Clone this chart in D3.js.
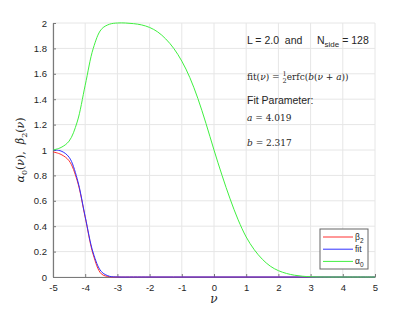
<!DOCTYPE html>
<html>
<head>
<meta charset="utf-8">
<script src="https://cdn.jsdelivr.net/npm/d3@7"></script>
<style>
  body { margin: 0; background: #fff; }
  text { font-family: "Liberation Sans", Arial, sans-serif; fill: #262626; }
  .serif { font-family: "DejaVu Serif", "Liberation Serif", serif; }
</style>
</head>
<body>
<div class="chart"></div>
<script>
// data
var nuB = [-5, -4.75, -4.5, -4.25, -4, -3.75, -3.5, -3.25, -3, -2.5, -2, -1, 0, 1, 2, 3, 4, 5];
var beta2 = [0.985, 0.965, 0.915, 0.76, 0.47, 0.175, 0.025, 0.002, 0, 0, 0, 0, 0, 0, 0, 0, 0, 0];
var fit = [1.0, 0.992, 0.943, 0.775, 0.475, 0.189, 0.043, 0.006, 0.0004, 0, 0, 0, 0, 0, 0, 0, 0, 0];

var nuA = [-5, -4.75, -4.5, -4.25, -4, -3.75, -3.5, -3.25, -3, -2.75, -2.5, -2.25, -2, -1.75, -1.5, -1.25,
           -1, -0.75, -0.5, -0.25, 0, 0.25, 0.5, 0.75, 1, 1.25, 1.5, 1.75, 2, 2.25, 2.5, 2.75, 3, 3.5, 4, 5];
var alpha0 = [1.0, 1.02, 1.07, 1.22, 1.51, 1.80, 1.95, 1.99, 2.0, 2.0, 1.995, 1.985, 1.965, 1.93, 1.875, 1.80,
              1.70, 1.57, 1.405, 1.21, 1.0, 0.80, 0.615, 0.45, 0.315, 0.215, 0.14, 0.085, 0.05, 0.028, 0.014, 0.006, 0.002, 0, 0, 0];

var xTicks = [-5, -4, -3, -2, -1, 0, 1, 2, 3, 4, 5];
var yTicks = [0, 0.2, 0.4, 0.6, 0.8, 1, 1.2, 1.4, 1.6, 1.8, 2];

var svgWidth = 415;
var svgHeight = 312;
var margin = { top: 23, right: 40, bottom: 35, left: 53 };
var chartWidth = 375 - margin.left;
var chartHeight = 277 - margin.top;

var svg = d3.select(".chart")
  .append("svg")
  .attr("width", svgWidth)
  .attr("height", svgHeight);

var chartGroup = svg.append("g")
  .attr("transform", `translate(${margin.left}, ${margin.top})`);

var x = d3.scaleLinear().domain([-5, 5]).range([0, chartWidth]);
var y = d3.scaleLinear().domain([0, 2]).range([chartHeight, 0]);

// grid
chartGroup.append("g")
  .selectAll("line")
  .data(xTicks)
  .enter()
  .append("line")
  .attr("x1", d => x(d)).attr("x2", d => x(d))
  .attr("y1", 0).attr("y2", chartHeight)
  .attr("stroke", "#e6e6e6");

chartGroup.append("g")
  .selectAll("line")
  .data(yTicks)
  .enter()
  .append("line")
  .attr("x1", 0).attr("x2", chartWidth)
  .attr("y1", d => y(d)).attr("y2", d => y(d))
  .attr("stroke", "#e6e6e6");

// axes
var bottomAxis = d3.axisBottom(x).tickValues(xTicks).tickFormat(d => String(d))
  .tickSizeInner(-3).tickSizeOuter(0).tickPadding(7);
var leftAxis = d3.axisLeft(y).tickValues(yTicks).tickFormat(d => String(d))
  .tickSizeInner(-3).tickSizeOuter(0).tickPadding(6);

var gx = chartGroup.append("g")
  .attr("transform", `translate(0, ${chartHeight})`)
  .call(bottomAxis);
var gy = chartGroup.append("g").call(leftAxis);

[gx, gy].forEach(function(g) {
  g.select(".domain").attr("stroke", "#7a7a7a").attr("stroke-width", 1.2);
  g.selectAll(".tick line").attr("stroke", "#7a7a7a");
  g.selectAll(".tick text").style("font-size", "9.5px").attr("fill", "#333")
    .style("font-family", "Liberation Sans, Arial, sans-serif");
});

// curves
var line = d3.line()
  .x(d => x(d[0]))
  .y(d => y(d[1]))
  .curve(d3.curveCatmullRom.alpha(0.5));

var series = [
  { xs: nuB, ys: beta2, color: "#ff3030", label: "β", sub: "2" },
  { xs: nuB, ys: fit, color: "#3030ff", label: "fit", sub: "" },
  { xs: nuA, ys: alpha0, color: "#40f040", label: "α", sub: "0" }
];

series.forEach(function(s) {
  chartGroup.append("path")
    .datum(s.xs.map((v, i) => [v, s.ys[i]]))
    .attr("fill", "none")
    .attr("stroke", s.color)
    .attr("stroke-width", 1)
    .attr("d", line);
});

// axis labels
svg.append("text")
  .attr("class", "serif")
  .attr("transform", "translate(24, 150) rotate(-90)")
  .attr("text-anchor", "middle")
  .style("font-size", "11px")
  .attr("xml:space", "preserve")
  .html('<tspan font-style="italic">α</tspan><tspan font-size="8px" dy="3">0</tspan><tspan dy="-3">(</tspan><tspan font-style="italic">ν</tspan>),  <tspan font-style="italic">β</tspan><tspan font-size="8px" dy="3">2</tspan><tspan dy="-3">(</tspan><tspan font-style="italic">ν</tspan>)');

svg.append("text")
  .attr("class", "serif")
  .attr("x", x(0) + margin.left)
  .attr("y", 303)
  .attr("text-anchor", "middle")
  .style("font-size", "12px")
  .style("font-style", "italic")
  .text("ν");

// annotations
var ax = 247;
svg.append("text")
  .attr("x", ax).attr("y", 44)
  .style("font-size", "10.5px")
  .attr("xml:space", "preserve")
  .html('L = 2.0  and     N<tspan font-size="8px" dy="3">side</tspan><tspan dy="-3"> = 128</tspan>');

svg.append("text")
  .attr("class", "serif")
  .attr("x", ax).attr("y", 80)
  .style("font-size", "9px")
  .html('fit(<tspan font-style="italic">ν</tspan>) = <tspan font-size="6.5px" dy="-4">1</tspan><tspan font-size="6.5px" dx="-4" dy="7">2</tspan><tspan dy="-3">erfc(<tspan font-style="italic">b</tspan>(<tspan font-style="italic">ν</tspan> + <tspan font-style="italic">a</tspan>))</tspan>');

svg.append("text")
  .attr("x", ax).attr("y", 104)
  .style("font-size", "10.5px")
  .text("Fit Parameter:");

svg.append("text")
  .attr("class", "serif")
  .attr("x", ax).attr("y", 121)
  .style("font-size", "9px")
  .html('<tspan font-style="italic">a</tspan> = 4.019');

svg.append("text")
  .attr("class", "serif")
  .attr("x", ax).attr("y", 146)
  .style("font-size", "9px")
  .html('<tspan font-style="italic">b</tspan> = 2.317');

// legend
var legend = svg.append("g").attr("transform", "translate(320, 229)");
legend.append("rect")
  .attr("width", 48).attr("height", 40)
  .attr("fill", "#fff")
  .attr("stroke", "#666");

series.forEach(function(s, i) {
  var ly = 8 + i * 12.2;
  legend.append("line")
    .attr("x1", 3).attr("x2", 33)
    .attr("y1", ly).attr("y2", ly)
    .attr("stroke", s.color);
  var t = legend.append("text")
    .attr("x", 35).attr("y", ly + 3)
    .style("font-size", "8.5px");
  t.append("tspan").text(s.label);
  if (s.sub) t.append("tspan").attr("font-size", "6.5px").attr("dy", 3).text(s.sub);
});
</script>
</body>
</html>
